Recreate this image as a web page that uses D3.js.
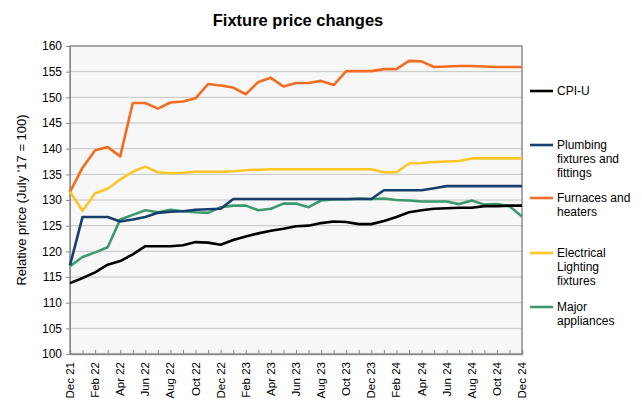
<!DOCTYPE html>
<html>
<head>
<meta charset="utf-8">
<script src="https://cdn.jsdelivr.net/npm/d3@7"></script>
<style>
  body { margin: 0; background: #fff; }
  text { font-family: "Liberation Sans", Arial, sans-serif; }
</style>
</head>
<body>
<div id="chart"></div>
<script>
const width = 642, height = 416;

// months Dec 21 .. Dec 24
const months = ["Dec 21", "Jan 22", "Feb 22", "Mar 22", "Apr 22", "May 22", "Jun 22", "Jul 22", "Aug 22", "Sep 22", "Oct 22", "Nov 22",
    "Dec 22", "Jan 23", "Feb 23", "Mar 23", "Apr 23", "May 23", "Jun 23", "Jul 23", "Aug 23", "Sep 23", "Oct 23", "Nov 23",
    "Dec 23", "Jan 24", "Feb 24", "Mar 24", "Apr 24", "May 24", "Jun 24", "Jul 24", "Aug 24", "Sep 24", "Oct 24", "Nov 24", "Dec 24"];

const cpiU = [113.8, 114.8, 115.9, 117.4, 118.1, 119.4, 121.0, 121.0, 121.0, 121.2, 121.8, 121.7,
    121.3, 122.2, 122.9, 123.5, 124.0, 124.4, 124.9, 125.0, 125.5, 125.8, 125.7, 125.3,
    125.3, 125.9, 126.7, 127.6, 128.0, 128.3, 128.4, 128.5, 128.5, 128.8, 128.8, 128.9, 128.9];

const plumbing = [117.3, 126.7, 126.7, 126.7, 125.8, 126.2, 126.7, 127.5, 127.7, 127.8, 128.1, 128.2,
    128.3, 130.2, 130.2, 130.2, 130.2, 130.2, 130.2, 130.2, 130.2, 130.2, 130.2, 130.2,
    130.2, 131.9, 131.9, 131.9, 131.9, 132.3, 132.7, 132.7, 132.7, 132.7, 132.7, 132.7, 132.7];

const furnaces = [131.6, 136.3, 139.7, 140.3, 138.5, 148.9, 148.9, 147.8, 149.0, 149.2, 149.8, 152.6,
    152.3, 151.9, 150.6, 153.0, 153.8, 152.1, 152.8, 152.8, 153.2, 152.4, 155.1, 155.1,
    155.1, 155.5, 155.5, 157.1, 157.0, 155.9, 156.0, 156.1, 156.1, 156.0, 155.9, 155.9, 155.9];

const lighting = [131.6, 127.9, 131.3, 132.2, 134.0, 135.5, 136.5, 135.4, 135.2, 135.3, 135.5, 135.5,
    135.5, 135.6, 135.8, 135.9, 136.0, 136.0, 136.0, 136.0, 136.0, 136.0, 136.0, 136.0,
    136.0, 135.4, 135.4, 137.1, 137.2, 137.4, 137.5, 137.6, 138.1, 138.1, 138.1, 138.1, 138.1];

const appliances = [117.1, 118.9, 119.8, 120.8, 126.2, 127.1, 128.0, 127.6, 128.1, 127.8, 127.6, 127.5,
    128.6, 128.9, 128.9, 128.0, 128.3, 129.3, 129.3, 128.6, 129.9, 130.1, 130.1, 130.3,
    130.2, 130.3, 130.0, 129.9, 129.7, 129.7, 129.7, 129.2, 129.9, 129.1, 129.2, 128.8, 126.8];

const seriesNames = ["CPI-U", "Plumbing fixtures and fittings", "Furnaces and heaters", "Electrical Lighting fixtures", "Major appliances"];
const legendLines = [["CPI-U"], ["Plumbing", "fixtures and", "fittings"], ["Furnaces and", "heaters"], ["Electrical", "Lighting", "fixtures"], ["Major", "appliances"]];
const legendY = [91, 145, 198, 253, 307];
const colors = ["#000000", "#163f6e", "#f26c22", "#fcc626", "#3a9a6c"];
const yTicks = d3.range(100, 161, 5);

const series = [cpiU, plumbing, furnaces, lighting, appliances];
// draw order: back to front
const drawOrder = [2, 3, 4, 1, 0];

const margin = { top: 46, right: 120, bottom: 62, left: 70 };
const plotW = width - margin.left - margin.right;
const plotH = height - margin.top - margin.bottom;

const svg = d3.select("#chart")
    .append("svg")
    .attr("width", width)
    .attr("height", height);

const x = d3.scaleLinear()
    .domain([0, months.length - 1])
    .range([margin.left, margin.left + plotW]);

const y = d3.scaleLinear()
    .domain([100, 160])
    .range([margin.top + plotH, margin.top]);

//plot background
svg.append("rect")
    .attr("x", margin.left)
    .attr("y", margin.top)
    .attr("width", plotW)
    .attr("height", plotH)
    .attr("fill", "#f7f7f7");

//gridlines
svg.append("g")
    .selectAll("line")
    .data(yTicks.slice(1, -1))
    .enter()
    .append("line")
    .attr("x1", margin.left)
    .attr("x2", margin.left + plotW)
    .attr("y1", d => y(d))
    .attr("y2", d => y(d))
    .attr("stroke", "#c4c4c4")
    .attr("stroke-width", 1);

//border
svg.append("rect")
    .attr("x", margin.left)
    .attr("y", margin.top)
    .attr("width", plotW)
    .attr("height", plotH)
    .attr("fill", "none")
    .attr("stroke", "#8c8c8c")
    .attr("stroke-width", 1.5);

// y axis
const yAxis = svg.append("g")
    .attr("transform", `translate(${margin.left},0)`)
    .call(d3.axisLeft(y).tickValues(yTicks).tickSize(4).tickPadding(4));
yAxis.select(".domain").attr("stroke", "#8c8c8c");
yAxis.selectAll(".tick line").attr("stroke", "#8c8c8c");
yAxis.selectAll("text")
    .attr("font-size", 12)
    .attr("fill", "#000")
    .attr("font-family", "Liberation Sans, Arial, sans-serif");

// x axis
const xAxis = svg.append("g")
    .attr("transform", `translate(0,${margin.top + plotH})`)
    .call(d3.axisBottom(x)
        .tickValues(d3.range(0, months.length))
        .tickSize(-4)
        .tickFormat(""));
xAxis.select(".domain").attr("stroke", "#8c8c8c").attr("stroke-width", 1.5);
xAxis.selectAll(".tick line").attr("stroke", "#8c8c8c");

svg.append("g")
    .selectAll("text")
    .data(months.filter((m, i) => i % 2 === 0))
    .enter()
    .append("text")
    .attr("transform", d => `translate(${x(months.indexOf(d)) + 4},${margin.top + plotH + 8}) rotate(-90)`)
    .attr("text-anchor", "end")
    .attr("font-size", 11.5)
    .attr("fill", "#000")
    .text(d => d);

// lines
const line = d3.line()
    .x((d, i) => x(i))
    .y(d => y(d));

svg.append("g")
    .selectAll("path")
    .data(drawOrder)
    .enter()
    .append("path")
    .attr("d", k => line(series[k]))
    .attr("fill", "none")
    .attr("stroke", k => colors[k])
    .attr("stroke-width", 2.6)
    .attr("stroke-linejoin", "round");

// title
svg.append("text")
    .attr("x", 298)
    .attr("y", 26)
    .attr("text-anchor", "middle")
    .attr("font-size", 16.5)
    .attr("font-weight", "bold")
    .text("Fixture price changes");

// y title
svg.append("text")
    .attr("transform", `translate(26,${margin.top + plotH / 2}) rotate(-90)`)
    .attr("text-anchor", "middle")
    .attr("font-size", 13)
    .text("Relative price (July '17 = 100)");

// legend
const legend = svg.append("g")
    .selectAll("g")
    .data(seriesNames)
    .enter()
    .append("g")
    .attr("transform", (d, i) => `translate(530,${legendY[i]})`);

legend.append("line")
    .attr("x1", 0)
    .attr("x2", 23)
    .attr("stroke", (d, i) => colors[i])
    .attr("stroke-width", 2.6);

legend.append("text")
    .attr("x", 27)
    .attr("font-size", 12)
    .attr("fill", "#000")
    .selectAll("tspan")
    .data((d, i) => legendLines[i])
    .enter()
    .append("tspan")
    .attr("x", 27)
    .attr("y", (d, j) => j * 14 + 4)
    .text(d => d);
</script>
</body>
</html>
